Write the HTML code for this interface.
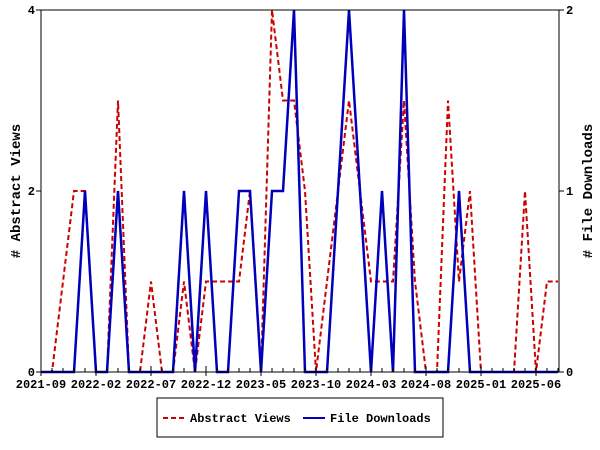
<!DOCTYPE html>
<html><head><meta charset="utf-8"><style>
body{margin:0;background:#fff}
svg{display:block;font-family:"Liberation Mono","DejaVu Sans Mono",monospace;font-weight:bold;font-size:12px}
</style></head><body>
<svg id="chart" width="600" height="450" viewBox="0 0 600 450" xmlns="http://www.w3.org/2000/svg">
<rect x="0" y="0" width="600" height="450" fill="#fff"/>
<g id="grid"></g>
<g id="series"></g>
<rect x="41" y="10" width="518" height="362" fill="none" stroke="#000" stroke-width="1"/>
<g id="axes"></g>
<text transform="translate(20,191) rotate(-90)" text-anchor="middle" font-size="14"># Abstract Views</text>
<text transform="translate(592,191) rotate(-90)" text-anchor="middle" font-size="14"># File Downloads</text>
<g>
<rect x="157" y="398" width="286" height="39" fill="#fff" stroke="#000" stroke-width="1"/>
<line x1="163" y1="418" x2="184" y2="418" stroke="#cc0000" stroke-width="2" stroke-dasharray="5,3"/>
<text x="190" y="422">Abstract Views</text>
<line x1="303" y1="418" x2="325" y2="418" stroke="#0000bb" stroke-width="2"/>
<text x="330" y="422">File Downloads</text>
</g>
</svg>
<script>
const views = [0,0,1,2,2,0,0,3,0,0,1,0,0,1,0,1,1,1,1,2,0,4,3,3,2,0,1,2,3,2,1,1,1,3,1,0,0,3,1,2,0,0,0,0,2,0,1,1];
const downloads = [0,0,0,0,1,0,0,1,0,0,0,0,0,1,0,1,0,0,1,1,0,1,1,2,0,0,0,1,2,1,0,1,0,2,0,0,0,0,1,0,0,0,0,0,0,0,0,0];
const xTickLabels = ["2021-09","2022-02","2022-07","2022-12","2023-05","2023-10","2024-03","2024-08","2025-01","2025-06"];
const leftTicks = [0,2,4];
const rightTicks = [0,1,2];
const NS="http://www.w3.org/2000/svg";
const X0=41,DX=11,Y0=372,Y1=10;
const xPos=i=>X0+DX*i;
const yL=v=>Y0-(Y0-Y1)*v/4;
const yR=v=>Y0-(Y0-Y1)*v/2;
const axes=document.getElementById('axes'), series=document.getElementById('series');
function mk(tag,attrs,parent){const e=document.createElementNS(NS,tag);for(const k in attrs)e.setAttribute(k,attrs[k]);parent.appendChild(e);return e;}
for(let i=1;i<=47;i++){
  const t=mk('line',{x1:xPos(i),x2:xPos(i),y1:Y0,y2:Y0-4,stroke:'#000'},axes);
  
  
}
xTickLabels.forEach((lab,k)=>{
  const x=xPos(k*5);
  const t=mk('line',{x1:x,x2:x,y1:Y0-6,y2:Y0+4,stroke:'#000'},axes);
  
  
  const tx=mk('text',{x:x,y:388,'text-anchor':'middle'},axes);
  tx.textContent=lab;
  
  
});
leftTicks.forEach(v=>{
  const y=yL(v);
  const t=mk('line',{x1:X0-5,x2:X0,y1:y,y2:y,stroke:'#000'},axes);
  
  
  const tx=mk('text',{x:X0-6,y:y+4,'text-anchor':'end'},axes);
  tx.textContent=v;
  
  
});
rightTicks.forEach(v=>{
  const y=yR(v);
  const t=mk('line',{x1:559,x2:564,y1:y,y2:y,stroke:'#000'},axes);
  
  
  const tx=mk('text',{x:566,y:y+4,'text-anchor':'start'},axes);
  tx.textContent=v;
  
  
});
const pv=views.map((v,i)=>xPos(i)+','+yL(v)).join(' ');
const lv=mk('polyline',{points:pv,fill:'none',stroke:'#cc0000','stroke-width':2,'stroke-dasharray':'5,3'},series);


const pd=downloads.map((v,i)=>xPos(i)+','+yR(v)).join(' ');
const ld=mk('polyline',{points:pd,fill:'none',stroke:'#0000bb','stroke-width':2.5},series);


</script>
</body></html>
